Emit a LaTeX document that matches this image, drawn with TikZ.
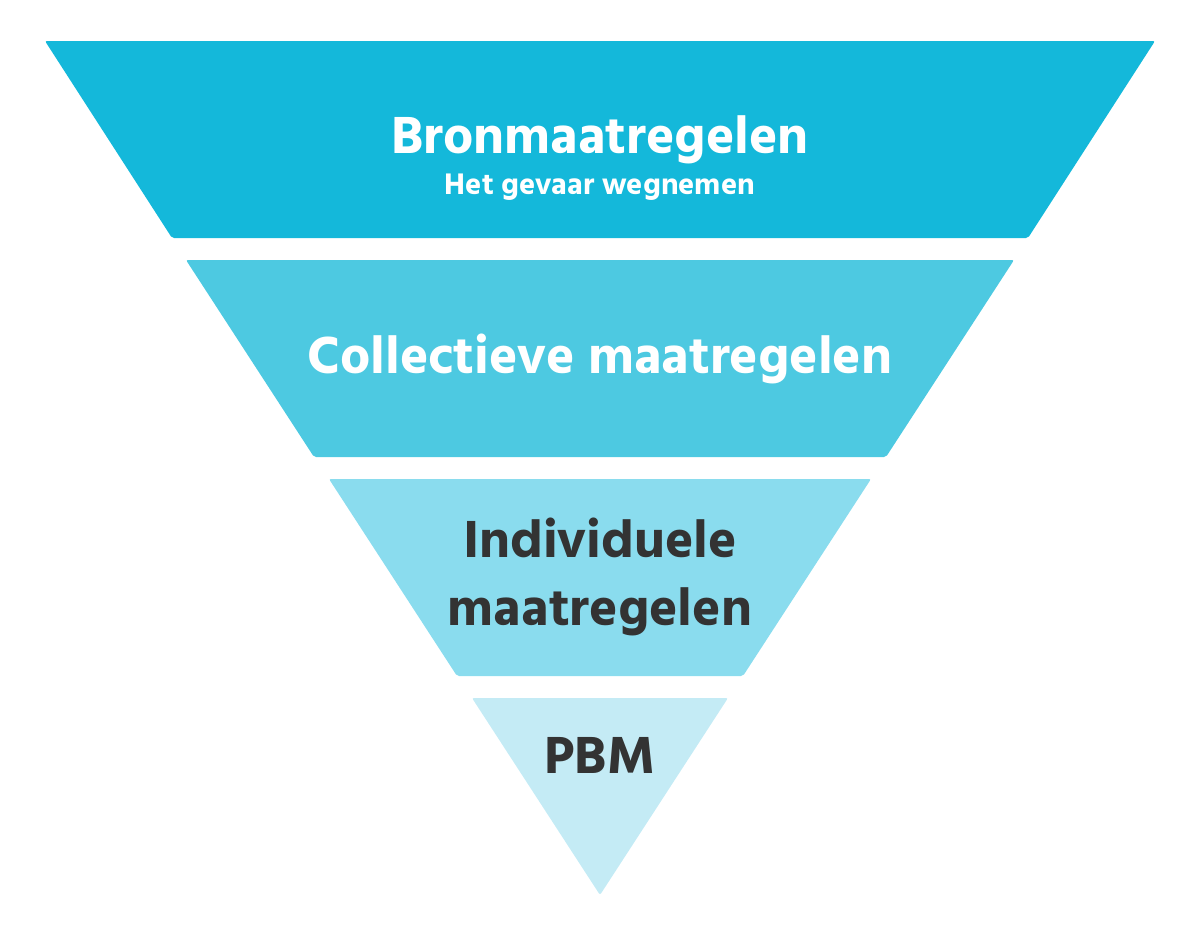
\documentclass[tikz,border=0pt]{standalone}
\usepackage{fontspec}
\setmainfont{Hind Siliguri}[BoldFont={* Bold}]
\definecolor{tierA}{HTML}{14B8DA}
\definecolor{tierB}{HTML}{4DC9E1}
\definecolor{tierC}{HTML}{8ADCEE}
\definecolor{tierD}{HTML}{C4EBF5}
\definecolor{darktext}{HTML}{333333}
\begin{document}
\begin{tikzpicture}[x=1pt,y=-1pt,
  tier/.style={rounded corners=2pt},
  bigtxt/.style={anchor=base,inner sep=0pt,font=\fontsize{53.5}{58}\selectfont\bfseries},
  subtxt/.style={anchor=base,inner sep=0pt,font=\fontsize{30.5}{33}\selectfont\bfseries}]
  \useasboundingbox (0,0) rectangle (1200,937);
  % four tiers of the inverted pyramid
  \fill[tier,tierA] (45,41) -- (1155,41) -- (1028,238) -- (172,238) -- cycle;
  \fill[tier,tierB] (186,260) -- (1014,260) -- (886,457) -- (314,457) -- cycle;
  \fill[tier,tierC] (329,479) -- (871,479) -- (743,676) -- (457,676) -- cycle;
  \fill[tier,tierD] (472,698) -- (728,698) -- (600,895) -- cycle;
  % labels
  \node[bigtxt,white] (bron) at (600,153) {Bronmaatregelen};
  \node[subtxt,white] (bronsub) at (600,194) {Het gevaar wegnemen};
  \node[bigtxt,white] (coll) at (600,373) {Collectieve maatregelen};
  \node[bigtxt,darktext] (indiv1) at (600,557) {Individuele};
  \node[bigtxt,darktext] (indiv2) at (600,625) {maatregelen};
  \node[bigtxt,darktext] (pbm) at (600,773) {PBM};
\end{tikzpicture}
\end{document}
